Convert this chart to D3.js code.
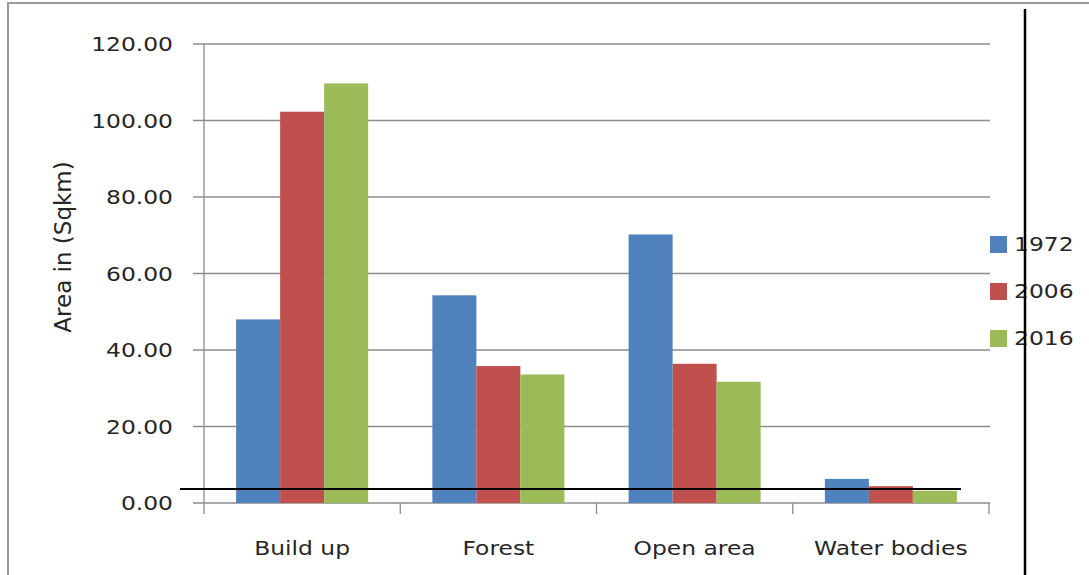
<!DOCTYPE html>
<html lang="en">
<head>
  <meta charset="UTF-8">
  <title>Land use area by year</title>
  <script src="https://d3js.org/d3.v7.min.js"></script>
  <style>
    body {
      margin: 0;
      background: #fff;
    }
    text {
      font-family: "DejaVu Sans", sans-serif;
      fill: #262626;
    }
  </style>
</head>
<body>
  <svg width="1089" height="575"></svg>

  <script>
    // data
    const categories = ["Build up", "Forest", "Open area", "Water bodies"];
    const years = ["1972", "2006", "2016"];
    const values1972 = [48.0, 54.3, 70.2, 6.3];
    const values2006 = [102.3, 35.8, 36.4, 4.4];
    const values2016 = [109.7, 33.6, 31.7, 3.2];
    const yTicks = [0, 20, 40, 60, 80, 100, 120];

    const seriesValues = [values1972, values2006, values2016];
    const colors = ["#4F81BD", "#C0504D", "#9BBB59"];

    // the source image is stretched sideways, so text is too
    const stretch = 1.17;

    const svg = d3.select("svg");

    const plot = { left: 204, right: 989, top: 44, bottom: 503 };

    const y = d3.scaleLinear()
      .domain([0, 120])
      .range([plot.bottom, plot.top]);

    const x0 = d3.scaleBand()
      .domain(categories)
      .range([plot.left, plot.right])
      .padding(0);

    const x1 = d3.scaleBand()
      .domain(years)
      .range([0, x0.bandwidth()])
      .paddingInner(0)
      .paddingOuter(0.73);

    // outer frame
    svg.append("path")
      .attr("d", "M8,575 V3 H1089")
      .attr("fill", "none")
      .attr("stroke", "#9a9a9a")
      .attr("stroke-width", 2);

    // gridlines + y ticks
    svg.append("g")
      .selectAll("line")
      .data(yTicks)
      .join("line")
      .attr("x1", plot.left - 11)
      .attr("x2", 990)
      .attr("y1", d => y(d))
      .attr("y2", d => y(d))
      .attr("stroke", "#8c8c8c")
      .attr("stroke-width", 1.3);

    // y tick labels
    svg.append("g")
      .selectAll("g")
      .data(yTicks)
      .join("g")
      .attr("transform", d => `translate(173,${y(d)}) scale(${stretch},1)`)
      .append("text")
      .attr("dy", "0.35em")
      .attr("text-anchor", "end")
      .attr("font-size", "20px")
      .text(d => d3.format(".2f")(d));

    // y axis line
    svg.append("line")
      .attr("x1", plot.left).attr("x2", plot.left)
      .attr("y1", y(120)).attr("y2", plot.bottom + 11)
      .attr("stroke", "#8c8c8c")
      .attr("stroke-width", 1.3);

    // x axis ticks at band boundaries
    const bounds = categories.map(c => x0(c)).concat([plot.right]);
    svg.append("g")
      .selectAll("line")
      .data(bounds.slice(1))
      .join("line")
      .attr("x1", d => d).attr("x2", d => d)
      .attr("y1", plot.bottom).attr("y2", plot.bottom + 11)
      .attr("stroke", "#8c8c8c")
      .attr("stroke-width", 1.3);

    // bars
    const groups = svg.append("g")
      .selectAll("g")
      .data(categories)
      .join("g")
      .attr("transform", c => `translate(${x0(c)},0)`);

    groups.selectAll("rect")
      .data((c, i) => years.map((yr, j) => ({ year: yr, value: seriesValues[j][i], color: colors[j] })))
      .join("rect")
      .attr("x", d => x1(d.year))
      .attr("y", d => y(d.value))
      .attr("width", x1.bandwidth())
      .attr("height", d => y(0) - y(d.value))
      .attr("fill", d => d.color);

    // x category labels
    svg.append("g")
      .selectAll("g")
      .data(categories)
      .join("g")
      .attr("transform", c => `translate(${x0(c) + x0.bandwidth() / 2},548) scale(${stretch},1)`)
      .append("text")
      .attr("dy", "0.35em")
      .attr("text-anchor", "middle")
      .attr("font-size", "20px")
      .text(c => c);

    // y axis title
    svg.append("text")
      .attr("transform", "translate(63,247) rotate(-90)")
      .attr("dy", "0.35em")
      .attr("text-anchor", "middle")
      .attr("font-size", "23px")
      .text("Area in (Sqkm)");

    // legend
    const legend = svg.append("g")
      .selectAll("g")
      .data(years)
      .join("g")
      .attr("transform", (d, i) => `translate(990,${244 + i * 47})`);

    legend.append("rect")
      .attr("x", 0).attr("y", -8)
      .attr("width", 17).attr("height", 17)
      .attr("fill", (d, i) => colors[i]);

    legend.append("text")
      .attr("transform", `translate(24,0) scale(${stretch},1)`)
      .attr("dy", "0.35em")
      .attr("font-size", "20px")
      .text(d => d);

    // black annotation lines drawn over the chart
    svg.append("line")
      .attr("x1", 180).attr("x2", 961)
      .attr("y1", 489).attr("y2", 489)
      .attr("stroke", "#000")
      .attr("stroke-width", 2);

    svg.append("line")
      .attr("x1", 1025).attr("x2", 1025)
      .attr("y1", 9).attr("y2", 575)
      .attr("stroke", "#000")
      .attr("stroke-width", 2.5);
  </script>
</body>
</html>
